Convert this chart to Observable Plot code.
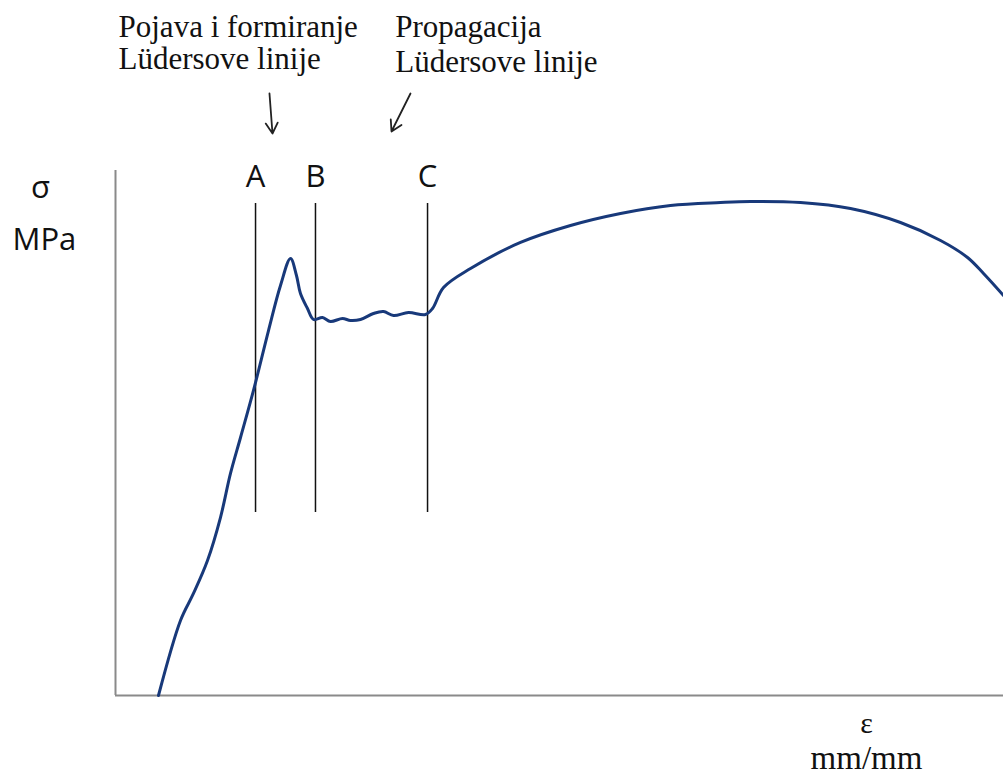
<!DOCTYPE html>
<html><head><meta charset="utf-8">
<script src="https://cdn.jsdelivr.net/npm/d3@7"></script>
<script src="https://cdn.jsdelivr.net/npm/@observablehq/plot@0.6"></script>
<style>body{margin:0;background:#fff;}</style>
</head><body><div id="chart"></div>
<script>
// Strain (arbitrary units, 0..100) and stress (arbitrary units, 0..100)
const strain = [4.84, 7.32, 8.78, 10.36, 11.82, 12.95, 14.08, 15.54, 17.23, 18.58, 19.71, 20.38, 20.83, 21.62, 22.30,
  23.31, 24.21, 25.56, 26.46, 27.59, 29.05, 30.18, 31.31, 33.0, 34.91, 35.7, 36.94, 39.98, 45.61, 51.24, 56.87,
  62.5, 68.13, 71.51, 77.14, 82.77, 88.40, 92.91, 95.95, 97.75, 100];
const stress = [0, 14.29, 19.43, 25.71, 33.90, 42.29, 49.14, 58.10, 69.52, 78.10, 83.24, 80.0, 76.57, 73.71, 71.62,
  72.0, 71.24, 71.81, 71.43, 71.62, 72.76, 73.14, 72.38, 72.95, 72.57, 73.71, 77.71, 81.33, 86.29, 89.52, 91.81,
  93.33, 93.90, 94.10, 93.90, 92.76, 90.10, 86.67, 83.43, 80.38, 76.19];
const markerNames = ["A", "B", "C"];
const markerStrain = [15.77, 22.52, 35.14];
const yLabel = ["σ", "MPa"];
const xLabel = ["ε", "mm/mm"];
const noteLeft = ["Pojava i formiranje", "Lüdersove linije"];
const noteRight = ["Propagacija", "Lüdersove linije"];

const curve = strain.map((s, i) => ({strain: s, stress: stress[i]}));
const markers = markerNames.map((n, i) => ({name: n, strain: markerStrain[i]}));

const serif = "'Liberation Serif', 'Times New Roman', serif";
const sans = "'Open Sans', 'Noto Sans', sans-serif";

const chart = Plot.plot({
  width: 1003,
  height: 774,
  marginLeft: 115,
  marginRight: 0,
  marginTop: 170,
  marginBottom: 79,
  x: {domain: [0, 100], axis: null},
  y: {domain: [0, 100], axis: null},
  style: {overflow: "visible", background: "#fff"},
  marks: [
    Plot.ruleX([0], {stroke: "#8a8a8a", strokeWidth: 2}),
    Plot.ruleY([0], {stroke: "#8a8a8a", strokeWidth: 2}),
    Plot.ruleX(markers, {x: "strain", y1: 34.86, y2: 93.71, stroke: "#111", strokeWidth: 1.5}),
    Plot.text(markers, {x: "strain", y: 98.67, text: "name", fontFamily: sans, fontSize: 31, fill: "#111"}),
    Plot.line(curve, {x: "strain", y: "stress", curve: "catmull-rom", stroke: "#18397a", strokeWidth: 3}),
    Plot.text([yLabel[0]], {x: -8.45, y: 96.57, text: d => d, fontFamily: sans, fontSize: 31, fill: "#111"}),
    Plot.text([yLabel[1]], {x: -8.0, y: 86.67, text: d => d, fontFamily: sans, fontSize: 31, fill: "#111"}),
    Plot.text([xLabel[0]], {x: 84.57, y: -5.3, text: d => d, fontFamily: serif, fontSize: 30, fill: "#111"}),
    Plot.text([xLabel[1]], {x: 84.57, y: -11.9, text: d => d, fontFamily: serif, fontSize: 33, fill: "#111"}),
    Plot.text([noteLeft[0]], {x: 0.34, y: 125.5, text: d => d, textAnchor: "start", lineAnchor: "bottom", fontFamily: serif, fontSize: 31, fill: "#111"}),
    Plot.text([noteLeft[1]], {x: 0.34, y: 119.4, text: d => d, textAnchor: "start", lineAnchor: "bottom", fontFamily: serif, fontSize: 31, fill: "#111"}),
    Plot.text([noteRight[0]], {x: 31.5, y: 125.5, text: d => d, textAnchor: "start", lineAnchor: "bottom", fontFamily: serif, fontSize: 31, fill: "#111"}),
    Plot.text([noteRight[1]], {x: 31.5, y: 118.7, text: d => d, textAnchor: "start", lineAnchor: "bottom", fontFamily: serif, fontSize: 31, fill: "#111"}),
    Plot.arrow([{}], {x1: 17.34, y1: 114.67, x2: 17.68, y2: 107.05, stroke: "#222", strokeWidth: 1.8, headLength: 10}),
    Plot.arrow([{}], {x1: 33.22, y1: 114.67, x2: 31.08, y2: 107.43, stroke: "#222", strokeWidth: 1.8, headLength: 10})
  ]
});
document.getElementById("chart").append(chart);
</script>
</body></html>
